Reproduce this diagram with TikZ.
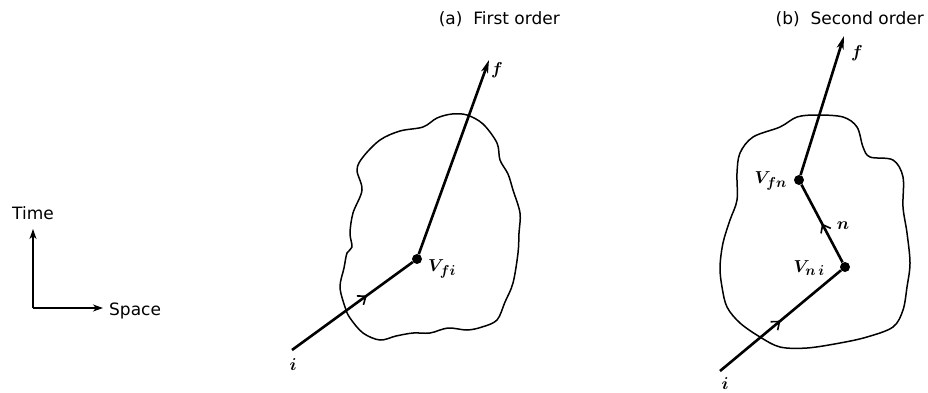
\documentclass[tikz,border=0pt]{standalone}
\usepackage{fontspec}
\setsansfont{DejaVu Sans}
\usetikzlibrary{arrows.meta,decorations.markings}
\tikzset{
  heavy/.style={line width=2.6pt},
  blob/.style={line width=1.5pt, line join=round},
  vdot/.style={circle, fill, inner sep=0pt, minimum size=10pt},
  endtip/.style={-{Stealth[length=13pt,width=7pt,inset=3.5pt]}},
  axis/.style={line width=1.6pt, -{Stealth[length=10pt,width=7pt,inset=3pt]}},
  midarrow/.style={postaction={decorate}, decoration={markings,
     mark=at position #1 with {\arrow{Straight Barb[length=7pt,width=11pt,line width=1.6pt]}}}},
  txt/.style={font=\sffamily\fontsize{17}{19}\selectfont, inner sep=0pt},
  mlab/.style={font=\fontsize{19}{21}\selectfont\boldmath, inner sep=0pt},
}
\begin{document}
\begin{tikzpicture}[x=1pt,y=-1pt]
\useasboundingbox (0,0) rectangle (928,392);
% axes
\coordinate (o) at (33,308);
\coordinate (tt) at (33,229);
\coordinate (st) at (103,308);
\draw[axis] (o) -- (tt);
\draw[axis] (o) -- (st);
\node[txt] (time) at (33,213) {Time};
\node[txt, anchor=west] (space) at (109,311) {Space};

% panel (a)
\node[txt, anchor=east] (ta) at (560,19) {(a)\ \ First order};
\draw[blob] plot[smooth cycle, tension=0.55] coordinates {
 (380,140) (400,131) (423,127) (437,118) (452,114) (467,115) (483,124) (497,143) (500,160)
 (508,174) (513,190) (520,213) (519,233) (518,253) (513,283) (505,302) (497,320) (482,327)
 (467,330) (448,328) (430,333) (413,333) (396,336) (380,340) (363,333) (350,318) (345,307)
 (340,287) (344,268) (347,253) (352,247) (350,233) (353,213) (362,190) (357,170) (363,157)};
\node[vdot] (vfi) at (417,259) {};
\coordinate (ia) at (292,350);
\coordinate (fa) at (489,60);
\draw[heavy, midarrow=0.62] (ia) -- (vfi);
\draw[heavy, endtip] (vfi) -- (fa);
\node[mlab] (la) at (293,364) {$i$};
\node[mlab] (lfa) at (497,70) {$f$};
\node[mlab, anchor=west] (lvfi) at (428,269) {$V_{fi}$};

% panel (b)
\node[txt, anchor=east] (tb) at (924,19) {(b)\ \ Second order};
\draw[blob] plot[smooth cycle, tension=0.55] coordinates {
 (780,127) (797,117) (817,115) (843,117) (857,127) (863,147) (870,157) (893,160) (903,177)
 (903,207) (907,233) (910,263) (907,287) (903,310) (893,327) (867,337) (840,343) (807,348)
 (780,347) (760,337) (740,323) (727,307) (722,287) (720,267) (723,243) (730,220) (737,200)
 (737,173) (740,153) (753,137)};
\node[vdot] (vni) at (845,267) {};
\node[vdot] (vfn) at (799,180) {};
\coordinate (ib) at (720,371);
\coordinate (fb) at (844,36);
\draw[heavy, midarrow=0.5] (ib) -- (vni);
\draw[heavy, midarrow=0.5] (vni) -- (vfn);
\draw[heavy, endtip] (vfn) -- (fb);
\node[mlab] (lb) at (725,383) {$i$};
\node[mlab] (lfb) at (857,53) {$f$};
\node[mlab] (ln) at (843,226) {$n$};
\node[mlab, anchor=east] (lvfn) at (787,181) {$V_{fn}$};
\node[mlab, anchor=east] (lvni) at (825,268) {$V_{n\,i}$};
\end{tikzpicture}
\end{document}
